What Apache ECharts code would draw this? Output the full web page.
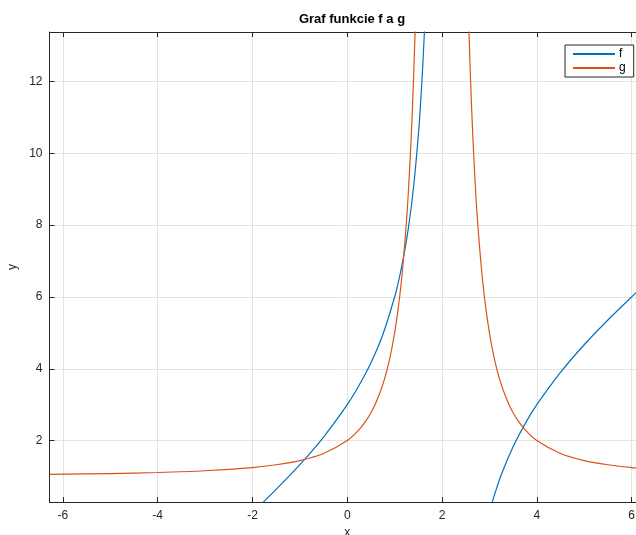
<!DOCTYPE html>
<html>
<head>
<meta charset="utf-8">
<script src="https://cdn.jsdelivr.net/npm/echarts@6/dist/echarts.min.js"></script>
<style>
  html, body { margin: 0; padding: 0; background: #fff; }
  #chart { width: 636px; height: 535px; }
</style>
</head>
<body>
<div id="chart"></div>
<script>
// hodnoty odcitane z grafu
const xRange = [-6.2832, 6.2832]
const yRange = [0.29, 13.38]

// f - lava vetva (pred asymptotou x = 2)
const fLeft = [
  [-2.0, 0], [-1.8, 0.25], [-1.5, 0.64], [-1.0, 1.33], [-0.5, 2.1], [0, 3],
  [0.25, 3.54], [0.5, 4.17], [0.75, 4.95], [1.0, 6], [1.1, 6.54], [1.2, 7.2],
  [1.3, 8.01], [1.4, 9.07], [1.5, 10.5], [1.55, 11.44], [1.6, 12.6],
  [1.65, 14.08], [1.7, 16.03]
]
// f - prava vetva
const fRight = [
  [3.0, 0], [3.1, 0.46], [3.25, 1.05], [3.5, 1.83], [3.75, 2.46], [4.0, 3],
  [4.5, 3.9], [5.0, 4.67], [5.5, 5.36], [6.0, 6], [6.2832, 6.35]
]
// g - lava vetva
const gLeft = [
  [-6.2832, 1.058], [-5, 1.082], [-4, 1.111], [-3, 1.16], [-2, 1.25],
  [-1.5, 1.327], [-1, 1.444], [-0.5, 1.64], [0, 2], [0.25, 2.306],
  [0.4, 2.563], [0.5, 2.778], [0.6, 3.041], [0.75, 3.56], [0.85, 4.025],
  [0.95, 4.628], [1.05, 5.432], [1.15, 6.536], [1.25, 8.111], [1.3, 9.16],
  [1.35, 10.47], [1.4, 12.11], [1.45, 14.22], [1.5, 17]
]
// g - prava vetva
const gRight = [
  [2.5, 17], [2.55, 14.22], [2.6, 12.11], [2.65, 10.47], [2.7, 9.16],
  [2.75, 8.111], [2.85, 6.536], [2.95, 5.432], [3.05, 4.628], [3.15, 4.025],
  [3.25, 3.56], [3.4, 3.041], [3.5, 2.778], [3.6, 2.563], [3.75, 2.306],
  [4.0, 2], [4.5, 1.64], [5.0, 1.444], [5.5, 1.327], [6.0, 1.25],
  [6.2832, 1.219]
]

const legendNames = ['f', 'g']
const colors = ['#0072BD', '#D95319']

const font = 'Liberation Sans, Arial, Helvetica, sans-serif'
const axisColor = '#262626'

const chart = echarts.init(document.getElementById('chart'), null, { renderer: 'canvas' })

const onlyInt = (v) => (Math.abs(v - Math.round(v)) < 1e-6 ? String(Math.round(v)) : '')

const lineSeries = (name, data, color) => ({
  name: name,
  type: 'line',
  data: data,
  xAxisIndex: 0,
  yAxisIndex: 0,
  symbol: 'none',
  showSymbol: false,
  smooth: 0.3,
  clip: true,
  animation: false,
  lineStyle: { color: color, width: 1.2 },
  itemStyle: { color: color }
})

const option = {
  backgroundColor: '#fff',
  animation: false,
  title: {
    text: 'Graf funkcie f a g',
    left: 347,
    top: 8,
    textAlign: 'center',
    textStyle: { fontFamily: font, fontSize: 13, fontWeight: 'bold', color: '#000' }
  },
  legend: {
    orient: 'vertical',
    left: 565,
    top: 45,
    padding: [3, 8, 3, 7],
    itemWidth: 42,
    itemHeight: 12,
    itemGap: 2,
    backgroundColor: '#fff',
    borderColor: axisColor,
    borderWidth: 1,
    borderRadius: 0,
    itemStyle: { opacity: 0 },
    textStyle: { fontFamily: font, fontSize: 12, color: '#000', padding: [0, 0, 0, -1] },
    data: legendNames
  },
  grid: {
    left: 49.5,
    right: -9,
    top: 32,
    bottom: 33,
    containLabel: false,
    outerBoundsMode: 'none'
  },
  xAxis: [
    {
      type: 'value',
      min: xRange[0],
      max: xRange[1],
      splitNumber: 6,
      name: 'x',
      nameLocation: 'middle',
      nameGap: 21,
      nameTextStyle: { fontFamily: font, fontSize: 12, color: axisColor },
      axisLine: { show: true, onZero: false, lineStyle: { color: axisColor, width: 1 } },
      axisTick: { show: true, inside: true, length: 5, lineStyle: { color: axisColor } },
      axisLabel: { fontFamily: font, fontSize: 12, color: axisColor, margin: 8, formatter: onlyInt },
      splitLine: { show: true, lineStyle: { color: '#e3e3e3', width: 1 } }
    },
    {
      type: 'value',
      position: 'top',
      min: xRange[0],
      max: xRange[1],
      splitNumber: 6,
      axisLine: { show: true, onZero: false, lineStyle: { color: axisColor, width: 1 } },
      axisTick: { show: true, inside: true, length: 5, lineStyle: { color: axisColor } },
      axisLabel: { show: false },
      splitLine: { show: false }
    }
  ],
  yAxis: [
    {
      type: 'value',
      min: yRange[0],
      max: yRange[1],
      splitNumber: 6,
      name: 'y',
      nameLocation: 'middle',
      nameGap: 31,
      nameTextStyle: { fontFamily: font, fontSize: 12, color: axisColor },
      axisLine: { show: true, onZero: false, lineStyle: { color: axisColor, width: 1 } },
      axisTick: { show: true, inside: true, length: 5, lineStyle: { color: axisColor } },
      axisLabel: { fontFamily: font, fontSize: 12, color: axisColor, margin: 7, formatter: onlyInt },
      splitLine: { show: true, lineStyle: { color: '#e3e3e3', width: 1 } }
    }
  ],
  series: [
    lineSeries(legendNames[0], fLeft, colors[0]),
    lineSeries(legendNames[0], fRight, colors[0]),
    lineSeries(legendNames[1], gLeft, colors[1]),
    lineSeries(legendNames[1], gRight, colors[1])
  ]
}

chart.setOption(option)
</script>
</body>
</html>
